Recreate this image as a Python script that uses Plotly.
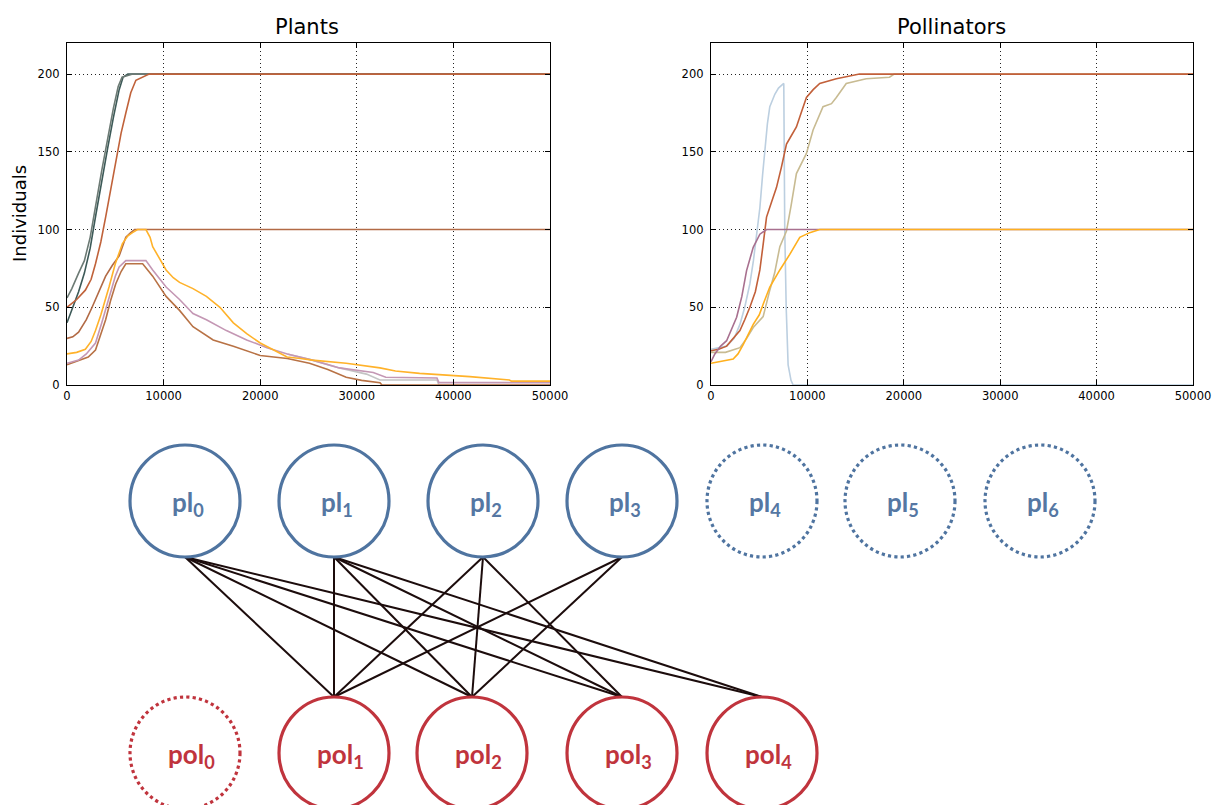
import plotly.graph_objects as go

W, H = 1214, 805

# ---------------- data ----------------
x_ticks = [0, 10000, 20000, 30000, 40000, 50000]
x_tick_labels = ["0", "10000", "20000", "30000", "40000", "50000"]
y_ticks = [0, 50, 100, 150, 200]
y_tick_labels = ["0", "50", "100", "150", "200"]

# Plants
pl_a_t = [0, 600, 1200, 1800, 2400, 3000, 3600, 4200, 4800, 5400, 5800, 6300, 50000]
pl_a_v = [40, 50, 60, 72, 88, 110, 132, 152, 172, 190, 198, 200, 200]
pl_b_t = [0, 500, 1200, 1800, 2400, 3000, 3600, 4200, 4800, 5300, 5700, 6800, 50000]
pl_b_v = [56, 62, 72, 80, 95, 118, 138, 158, 178, 192, 198, 200, 200]
pl_c_t = [0, 1000, 1900, 2500, 2950, 3500, 4000, 4500, 5040, 5600, 6090, 6600, 7130, 8170, 8500, 50000]
pl_c_v = [50, 55, 61, 68, 78, 92, 108, 125, 143, 162, 175, 188, 196, 199, 200, 200]
pl_d_t = [0, 600, 1200, 2000, 2600, 3300, 4000, 4700, 5400, 5800, 6090, 6600, 7000, 50000]
pl_d_v = [30, 31, 34, 42, 50, 60, 70, 77, 83, 90, 95, 98, 100, 100]
pl_e_t = [0, 1000, 1900, 2500, 2950, 3500, 4350, 5000, 5740, 6300, 6780, 7300, 8170, 8600, 8870,
          9500, 10260, 11000, 11650, 13040, 14430, 15830, 17220, 18600, 20000, 21400, 22780,
          24170, 25400, 28900, 30000, 32400, 34000, 36500, 41700, 45800, 46000, 50000]
pl_e_v = [20, 21, 23, 28, 35, 45, 63, 78, 91, 96, 98, 100, 100, 95, 89,
          82, 74, 69, 66, 62, 57, 50, 40, 33, 27, 22.5, 18,
          17, 16, 14, 13, 11, 9, 7.5, 5.4, 3.2, 2.5, 2.5]
pl_f_t = [0, 1200, 2000, 2950, 3600, 4350, 5000, 5400, 6090, 8170, 8870, 10260, 11650, 13040,
          14430, 16500, 18600, 20700, 22800, 25400, 28200, 31700, 33000, 38300, 38500, 50000]
pl_f_v = [14, 16, 20, 27, 40, 57, 70, 76, 80, 80, 74, 63, 55, 46,
          42, 35, 29, 24, 20, 16, 11, 8, 5, 4.5, 1.5, 1.5]
pl_g_t = [0, 1200, 2200, 2950, 3500, 4000, 4500, 5040, 5600, 6090, 7830, 8870, 10260, 11650,
          13040, 15130, 17220, 20000, 22800, 25100, 27000, 28900, 30500, 32400, 32600, 50000]
pl_g_v = [13, 16, 18, 22.5, 32, 42, 54, 65, 73, 78, 78, 70, 57, 48,
          37.5, 29, 25, 19, 17, 14, 10, 5, 3, 1.5, 0, 0]
pl_h_t = [22800, 25400, 28200, 31000, 32400, 38300, 38500, 50000]
pl_h_v = [20, 16, 11, 7, 3.2, 3.2, 0, 0]

# Pollinators
po_a_t = [0, 800, 1620, 2400, 3000, 3500, 4030, 4400, 4720, 5070, 5350, 5590, 5850, 6100,
          6620, 7000, 7480, 7550, 7650, 7800, 8000, 8300, 8520, 50000]
po_a_v = [23, 24, 25, 30, 39, 50, 65, 80, 95, 114, 135, 153, 168, 179,
          187, 191, 194, 194, 100, 50, 13, 3, 0, 0]
po_b_t = [0, 800, 1620, 2300, 3000, 3500, 4030, 4600, 5070, 5400, 5760, 6300, 6790, 7300,
          7830, 8300, 8860, 9400, 9900, 10600, 11280, 13000, 15400, 50000]
po_b_v = [22, 23, 25, 30, 35, 42, 50, 60, 74, 90, 108, 118, 127, 140,
          155, 160, 166, 176, 185, 190, 194, 197, 200, 200]
po_c_t = [0, 1500, 3000, 3700, 4380, 5410, 6100, 6600, 7140, 7830, 8300, 8860, 9900, 10590,
          11620, 12500, 13000, 14030, 16100, 18520, 19000, 50000]
po_c_v = [21, 21, 24, 30, 37, 44, 61, 72, 89, 99, 115, 136, 149, 164,
          179, 181, 185, 194, 197, 198, 200, 200]
po_d_t = [0, 400, 1000, 1620, 2660, 3200, 3690, 4380, 5070, 5760, 50000]
po_d_v = [15, 20, 25, 28.5, 43.6, 57, 73.6, 88.6, 97, 100, 100]
po_e_t = [0, 1000, 2300, 2800, 3340, 4380, 5000, 5410, 6100, 7140, 8170, 9210, 10240, 11280, 50000]
po_e_v = [14, 15, 16.7, 20, 26, 39, 45, 52, 63, 74, 84, 95, 98, 100, 100]

# Network
plant_labels = ["pl<sub>0</sub>", "pl<sub>1</sub>", "pl<sub>2</sub>", "pl<sub>3</sub>",
                "pl<sub>4</sub>", "pl<sub>5</sub>", "pl<sub>6</sub>"]
plant_alive = [True, True, True, True, False, False, False]
poll_labels = ["pol<sub>0</sub>", "pol<sub>1</sub>", "pol<sub>2</sub>", "pol<sub>3</sub>", "pol<sub>4</sub>"]
poll_alive = [False, True, True, True, True]
edges = [(0, 1), (0, 2), (0, 3), (0, 4),
         (1, 1), (1, 2), (1, 3), (1, 4),
         (2, 1), (2, 2), (2, 3),
         (3, 1), (3, 2)]

# ---------------- layout / styling ----------------
plant_x = [185, 334, 483, 622, 762, 900, 1040]
plant_y = 501
poll_x = [185, 334, 472, 622, 762]
poll_y = 753
RX, RY = 55, 56

BLUE = "#4f74a0"
RED = "#c0343d"

fig = go.Figure()

plant_series = [
    (pl_a_t, pl_a_v, "#3d5a58"),
    (pl_b_t, pl_b_v, "#6c7a74"),
    (pl_c_t, pl_c_v, "#c0623a"),
    (pl_d_t, pl_d_v, "#b26a45"),
    (pl_h_t, pl_h_v, "#c4c4c4"),
    (pl_g_t, pl_g_v, "#b87245"),
    (pl_f_t, pl_f_v, "#c497b4"),
    (pl_e_t, pl_e_v, "#ffb22a"),
]
for t, v, c in plant_series:
    fig.add_trace(go.Scatter(x=t, y=v, mode="lines", line=dict(color=c, width=1.6),
                             xaxis="x", yaxis="y", showlegend=False, hoverinfo="skip"))

poll_series = [
    (po_a_t, po_a_v, "#bccfe0"),
    (po_c_t, po_c_v, "#c8bb92"),
    (po_b_t, po_b_v, "#c2603a"),
    (po_d_t, po_d_v, "#a8708f"),
    (po_e_t, po_e_v, "#ffb01e"),
]
for t, v, c in poll_series:
    fig.add_trace(go.Scatter(x=t, y=v, mode="lines", line=dict(color=c, width=1.6),
                             xaxis="x2", yaxis="y2", showlegend=False, hoverinfo="skip"))

# network edges
ex, ey = [], []
for p, q in edges:
    ex += [plant_x[p], poll_x[q], None]
    ey += [plant_y + RY, poll_y - RY, None]
fig.add_trace(go.Scatter(x=ex, y=ey, mode="lines", line=dict(color="#1c0c0c", width=2),
                         xaxis="x3", yaxis="y3", showlegend=False, hoverinfo="skip"))

shapes = []
annotations = []
for i, lab in enumerate(plant_labels):
    shapes.append(dict(type="circle", xref="x3", yref="y3",
                       x0=plant_x[i] - RX, x1=plant_x[i] + RX,
                       y0=plant_y - RY, y1=plant_y + RY,
                       line=dict(color=BLUE, width=3.2,
                                 dash="solid" if plant_alive[i] else "dot")))
    annotations.append(dict(x=plant_x[i] + 3, y=plant_y + 2, xref="x3", yref="y3", text="<b>" + lab + "</b>",
                            showarrow=False, font=dict(family="Lato", size=26, color="#5577a3")))
for i, lab in enumerate(poll_labels):
    shapes.append(dict(type="circle", xref="x3", yref="y3",
                       x0=poll_x[i] - RX, x1=poll_x[i] + RX,
                       y0=poll_y - RY, y1=poll_y + RY,
                       line=dict(color=RED, width=3.2,
                                 dash="solid" if poll_alive[i] else "dot")))
    annotations.append(dict(x=poll_x[i] + 6, y=poll_y + 2, xref="x3", yref="y3", text="<b>" + lab + "</b>",
                            showarrow=False, font=dict(family="Lato", size=26, color="#c0343d")))

annotations.append(dict(x=307 / W, y=1 - 27 / H, xref="paper", yref="paper", text="Plants",
                        showarrow=False, font=dict(family="DejaVu Sans", size=21, color="black"),
                        xanchor="center", yanchor="middle"))
annotations.append(dict(x=951 / W, y=1 - 27 / H, xref="paper", yref="paper", text="Pollinators",
                        showarrow=False, font=dict(family="DejaVu Sans", size=21, color="black"),
                        xanchor="center", yanchor="middle"))
annotations.append(dict(x=20 / W, y=1 - 214 / H, xref="paper", yref="paper", text="Individuals",
                        showarrow=False, textangle=-90,
                        font=dict(family="DejaVu Sans", size=18, color="black"),
                        xanchor="center", yanchor="middle"))

ydom = [1 - 385 / H, 1 - 43 / H]
common_x = dict(range=[0, 50000], tickvals=x_ticks, ticktext=x_tick_labels, automargin=False,
                showline=True, linecolor="black", linewidth=1.3, mirror="ticks",
                ticks="inside", ticklen=5, tickcolor="black",
                showgrid=True, gridcolor="#222222", griddash="1px,3px", gridwidth=1,
                zeroline=False, tickfont=dict(family="DejaVu Sans", size=11.5, color="black"))
common_y = dict(range=[0, 220], tickvals=y_ticks, ticktext=y_tick_labels, domain=ydom, automargin=False,
                showline=True, linecolor="black", linewidth=1.3, mirror="ticks",
                ticks="inside", ticklen=5, tickcolor="black",
                showgrid=True, gridcolor="#222222", griddash="1px,3px", gridwidth=1,
                zeroline=False, tickfont=dict(family="DejaVu Sans", size=11.5, color="black"),
                ticklabelstandoff=4)

fig.update_layout(
    width=W, height=H, margin=dict(l=0, r=0, t=0, b=0, pad=0, autoexpand=False),
    paper_bgcolor="white", plot_bgcolor="rgba(0,0,0,0)",
    xaxis=dict(domain=[67 / W, 550 / W], anchor="y", **common_x),
    yaxis=dict(anchor="x", **common_y),
    xaxis2=dict(domain=[711 / W, 1193 / W], anchor="y2", **common_x),
    yaxis2=dict(anchor="x2", **common_y),
    xaxis3=dict(domain=[0, 1], range=[0, W], visible=False, fixedrange=True, automargin=False),
    yaxis3=dict(domain=[0, 1 - 430 / H], range=[H, 430], visible=False, fixedrange=True,
                anchor="x3", automargin=False),
    shapes=shapes, annotations=annotations,
)

fig.write_html("out.html", config={"displayModeBar": False},
               post_script="document.body.style.margin='0';document.body.style.padding='0';"
                           "document.documentElement.style.overflow='hidden';")
